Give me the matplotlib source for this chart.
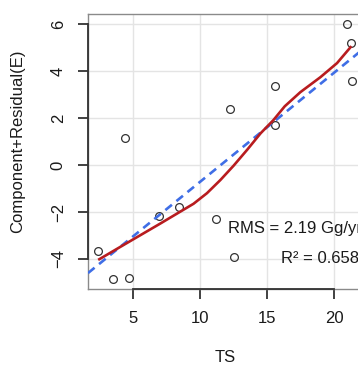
import matplotlib
matplotlib.use("Agg")
import matplotlib.pyplot as plt
from matplotlib.lines import Line2D
import numpy as np

plt.rcParams['font.family'] = ['Liberation Sans', 'DejaVu Sans']

# Component + residual observations
ts = [2.39, 3.5, 4.40, 4.70, 6.94, 8.4, 11.2, 12.2, 12.5, 15.6, 15.6, 20.97, 21.27, 21.3]
cr = [-3.66, -4.85, 1.15, -4.80, -2.17, -1.80, -2.30, 2.38, -3.90, 3.36, 1.70, 6.00, 5.19, 3.57]

# Smoothed (loess) trend
smooth_x = [2.39, 4.0, 5.5, 7.0, 8.5, 9.5, 10.5, 11.5, 12.5, 13.5, 14.5, 15.45, 16.3, 17.46, 18.96, 20.2, 21.27]
smooth_y = [-4.04, -3.50, -3.00, -2.50, -1.99, -1.65, -1.20, -0.64, -0.02, 0.65, 1.35, 1.91, 2.50, 3.10, 3.74, 4.34, 5.06]

# Linear component fit
fit_intercept = -5.36
fit_slope = 0.465

x_ticks = [5, 10, 15, 20]
y_ticks = [-4, -2, 0, 2, 4, 6]
x_lim = (1.63, 22.06)
y_lim = (-5.28, 6.43)

rms_label = "RMS = 2.19 Gg/yr"
r2_label = "R\u00b2 = 0.658"

W, H = 358, 367
fig = plt.figure(figsize=(W / 100, H / 100), dpi=100)
ax = fig.add_axes([88 / W, 1 - 289 / H, 274 / W, 275 / H])
ax.set_xlim(*x_lim)
ax.set_ylim(*y_lim)

ax.set_xticks(x_ticks)
ax.set_yticks(y_ticks)
ax.grid(True, color='#e4e4e4', lw=1.0, zorder=0)
ax.set_axisbelow(True)

for s in ax.spines.values():
    s.set_color('#8a8a8a')
    s.set_linewidth(1.0)

ax.tick_params(axis='both', length=7, width=1.3, color='#333333',
               labelsize=12, pad=9, labelcolor='#1a1a1a')
ax.tick_params(axis='y', labelrotation=90)
for lab in ax.get_yticklabels():
    lab.set_va('center')

# Dark axis lines spanning first to last tick
ax.add_line(Line2D([0, 0], [y_ticks[0], y_ticks[-1]], transform=ax.get_yaxis_transform(),
                   color='#333333', lw=1.3, clip_on=False, zorder=5))
ax.add_line(Line2D([x_ticks[0], x_ticks[-1]], [0, 0], transform=ax.get_xaxis_transform(),
                   color='#333333', lw=1.3, clip_on=False, zorder=5))

ax.plot(ts, cr, linestyle='none', marker='o', markersize=5.6,
        markerfacecolor='none', markeredgecolor='#333333', markeredgewidth=0.9, zorder=3)

xx = np.array(x_lim)
ax.plot(xx, fit_intercept + fit_slope * xx, color='#3f6ee6', lw=1.9,
        dashes=(3.2, 2.2), zorder=4)
ax.plot(smooth_x, smooth_y, color='#b81c1f', lw=1.9, zorder=4, solid_capstyle='butt')

ax.text(12.1, -2.72, rms_label, ha='left', va='center', fontsize=12, color='#1a1a1a')
ax.text(16.04, -4.0, r2_label, ha='left', va='center', fontsize=12, color='#1a1a1a')

fig.text(18 / W, 1 - 141 / H, "Component+Residual(E)", rotation=90,
         ha='center', va='center', fontsize=12, color='#1a1a1a')
fig.text(225 / W, 1 - 358 / H, "TS", ha='center', va='center', fontsize=12, color='#1a1a1a')

fig.savefig("out.png", dpi=100)
